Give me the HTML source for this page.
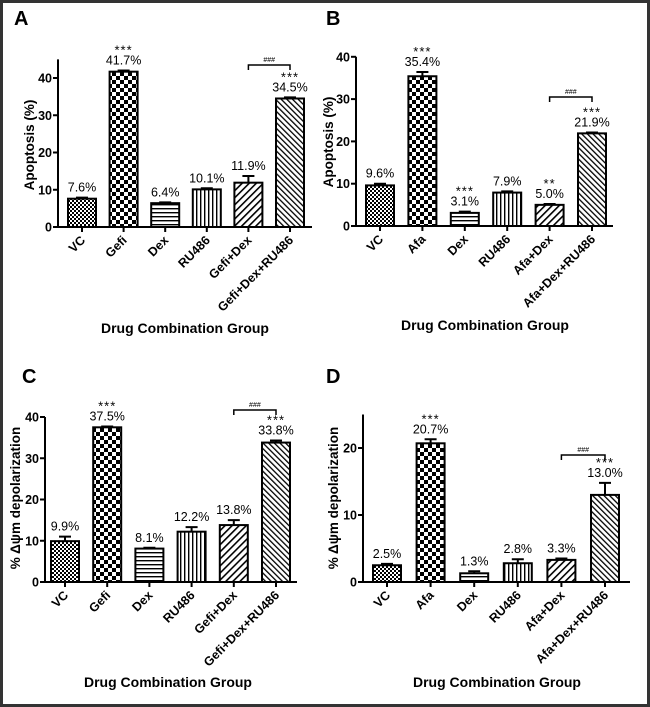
<!DOCTYPE html>
<html><head><meta charset="utf-8"><style>
body{margin:0;background:#fff}
svg{display:block;font-family:"Liberation Sans",Arial,sans-serif}
</style></head><body>
<svg id="fig" width="650" height="707" viewBox="0 0 650 707">
<defs>
<pattern id="pVC" width="4" height="4" patternUnits="userSpaceOnUse"><rect width="4" height="4" fill="#fff"/><rect width="2" height="2" fill="#000"/><rect x="2" y="2" width="2" height="2" fill="#000"/></pattern>
<pattern id="pDrug" width="8" height="8" patternUnits="userSpaceOnUse"><rect width="8" height="8" fill="#fff"/><rect width="4" height="4" fill="#000"/><rect x="4" y="4" width="4" height="4" fill="#000"/></pattern>
<pattern id="pDex" width="4" height="4" patternUnits="userSpaceOnUse"><rect width="4" height="4" fill="#fff"/><rect width="4" height="1.4" fill="#000"/></pattern>
<pattern id="pRU" width="4" height="4" patternUnits="userSpaceOnUse"><rect width="4" height="4" fill="#fff"/><rect width="1.4" height="4" fill="#000"/></pattern>
<pattern id="pCombo" width="5" height="5" patternUnits="userSpaceOnUse" patternTransform="rotate(45)"><rect width="5" height="5" fill="#fff"/><rect width="1.6" height="5" fill="#000"/></pattern>
<pattern id="pTriple" width="4" height="4" patternUnits="userSpaceOnUse" patternTransform="rotate(-45)"><rect width="4" height="4" fill="#fff"/><rect width="1.3" height="4" fill="#000"/></pattern>
</defs>
<rect x="1.5" y="1.5" width="647" height="704" fill="none" stroke="#333" stroke-width="3"/>
</svg>
<script>
// Panel A data
const catsA = ["VC","Gefi","Dex","RU486","Gefi+Dex","Gefi+Dex+RU486"];
const valsA = [7.6,41.7,6.4,10.1,11.9,34.5];
const errA = [0.3,0.3,0.2,0.3,1.8,0.3];
const starsA = ["","***","","","","***"];
const ticksA = [0,10,20,30,40];
// Panel B data
const catsB = ["VC","Afa","Dex","RU486","Afa+Dex","Afa+Dex+RU486"];
const valsB = [9.6,35.4,3.1,7.9,5.0,21.9];
const errB = [0.4,1.0,0.3,0.3,0.2,0.2];
const starsB = ["","***","***","","**","***"];
const ticksB = [0,10,20,30,40];
// Panel C data
const catsC = ["VC","Gefi","Dex","RU486","Gefi+Dex","Gefi+Dex+RU486"];
const valsC = [9.9,37.5,8.1,12.2,13.8,33.8];
const errC = [1.1,0.2,0.2,1.1,1.2,0.5];
const starsC = ["","***","","","","***"];
const ticksC = [0,10,20,30,40];
// Panel D data
const catsD = ["VC","Afa","Dex","RU486","Afa+Dex","Afa+Dex+RU486"];
const valsD = [2.5,20.7,1.3,2.8,3.3,13.0];
const errD = [0.2,0.6,0.3,0.6,0.2,1.8];
const starsD = ["","***","","","","***"];
const ticksD = [0,10,20];

const NS="http://www.w3.org/2000/svg";
const svg=document.getElementById('fig');
const fills=["pVC","pDrug","pDex","pRU","pCombo","pTriple"];
function mk(tag,attrs,parent,text){const e=document.createElementNS(NS,tag);for(const k in attrs)e.setAttribute(k,attrs[k]);if(text!==undefined)e.textContent=text;(parent||svg).appendChild(e);return e;}

function panel(p){
  const g=mk('g',{});
  
  
  const y=v=>p.y0-(v)*p.ppu;
  const x0=p.centers[0], step=(p.centers[5]-p.centers[0])/5;
  const xc=i=>x0+i*step;
  const lab=mk('text',{x:p.lx,y:p.ly,'font-size':20,'font-weight':'bold'},g,p.id);
  
  
  p.vals.forEach((v,i)=>{
    const w=28, top=y(v);
    const b=mk('rect',{x:xc(i)-w/2,y:top,width:w,height:p.y0-top,fill:'url(#'+fills[i]+')',stroke:'#000','stroke-width':2},g);
    
    
    const et=y(v+p.err[i]);
    const e=mk('path',{d:`M${xc(i)} ${top}V${et}M${xc(i)-6} ${et}H${xc(i)+6}`,stroke:'#000','stroke-width':2,fill:'none'},g);
    
    
    const vl=mk('text',{x:xc(i),y:et-6,'font-size':12.5,'text-anchor':'middle'},g,v.toFixed(1)+'%');
    
    
    if(p.stars[i]){
      const s=mk('text',{x:xc(i),y:et-16,'font-size':13,'text-anchor':'middle','letter-spacing':'1'},g,p.stars[i]);
      
      
    }
    mk('line',{x1:xc(i),x2:xc(i),y1:p.y0,y2:p.y0+5,stroke:'#000','stroke-width':2},g);
    const tl=mk('text',{x:xc(i)+4,y:p.y0+14,'font-size':12.5,'font-weight':'bold','text-anchor':'end',transform:`rotate(-45 ${xc(i)+4} ${p.y0+14})`},g,p.cats[i]);
    
    
  });
  const ya=mk('line',{x1:p.ax,x2:p.ax,y1:y(p.ymax),y2:p.y0,stroke:'#000','stroke-width':2},g);
  
  
  const xa=mk('line',{x1:p.ax,x2:p.xend,y1:p.y0,y2:p.y0,stroke:'#000','stroke-width':2},g);
  
  
  p.ticks.forEach(t=>{
    mk('line',{x1:p.ax-5,x2:p.ax,y1:y(t),y2:y(t),stroke:'#000','stroke-width':2},g);
    const tt=mk('text',{x:p.ax-6,y:y(t)+4.5,'font-size':12.5,'font-weight':'bold','text-anchor':'end'},g,t);
    
    
  });
  const yt=mk('text',{x:p.ytx,y:p.yty,'font-size':13.5,'font-weight':'bold','text-anchor':'middle',transform:`rotate(-90 ${p.ytx} ${p.yty})`},g,p.ytitle);
  
  
  const xt=mk('text',{x:p.xtx,y:p.xty,'font-size':14,'font-weight':'bold','text-anchor':'middle'},g,'Drug Combination Group');
  
  
  const bx1=xc(4),bx2=xc(5);
  const br=mk('path',{d:`M${bx1} ${p.by+5}V${p.by}H${bx2}V${p.by+5}`,stroke:'#000','stroke-width':1.5,fill:'none'},g);
  
  
  const hs=mk('text',{x:(bx1+bx2)/2,y:p.by-3,'font-size':7,'text-anchor':'middle'},g,'###');
  
  
}

panel({id:'A',cats:catsA,vals:valsA,err:errA,stars:starsA,ticks:ticksA,ymax:45,y0:227,ppu:3.725,ax:58,xend:312,centers:[82,123,168,208,248,290],lx:14,ly:25,ytitle:'Apoptosis (%)',ytx:34,yty:145,xtx:185,xty:333,by:65});
panel({id:'B',cats:catsB,vals:valsB,err:errB,stars:starsB,ticks:ticksB,ymax:40,y0:226,ppu:4.23,ax:356,xend:613,centers:[380,422,465,508,550,592],lx:326,ly:25,ytitle:'Apoptosis (%)',ytx:333,yty:142,xtx:485,xty:330,by:97});
panel({id:'C',cats:catsC,vals:valsC,err:errC,stars:starsC,ticks:ticksC,ymax:40,y0:582,ppu:4.125,ax:45,xend:297,centers:[65,107,150,192,234,276],lx:22,ly:383,ytitle:'% \u0394\u03c8m depolarization',ytx:20,yty:498,xtx:168,xty:687,by:410});
panel({id:'D',cats:catsD,vals:valsD,err:errD,stars:starsD,ticks:ticksD,ymax:25,y0:582,ppu:6.7,ax:363,xend:630,centers:[387,431,474,518,561,605],lx:326,ly:383,ytitle:'% \u0394\u03c8m depolarization',ytx:338,yty:498,xtx:497,xty:687,by:455});
</script>
</body></html>
